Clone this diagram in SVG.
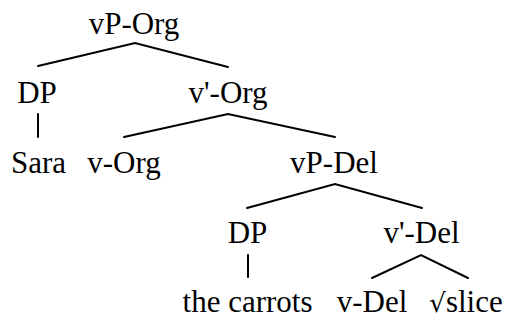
<svg xmlns="http://www.w3.org/2000/svg" width="505" height="320" viewBox="0 0 505 320">
<style>
.e{stroke:#000;stroke-width:2;fill:none;stroke-linecap:round}
.t{font-family:'Liberation Serif',serif;font-size:31px;fill:#000;text-anchor:middle}
</style>
<rect width="505" height="320" fill="#fff"/>
<g id="connectors">
<polyline class="e" points="38,66 135,43 228,67"/>
<line class="e" x1="38" y1="114" x2="38" y2="137"/>
<polyline class="e" points="124,137 228,114 335,137"/>
<polyline class="e" points="247,208 335,184 422,208"/>
<line class="e" x1="248" y1="255" x2="248" y2="277"/>
<polyline class="e" points="372,278 421,255 468,278"/>
</g>
<g id="vP-Org"><text class="t" x="134" y="34">vP-Org</text></g>
<g id="DP1"><text class="t" x="37" y="103">DP</text></g>
<g id="vbar-Org"><text class="t" x="228" y="103">v'-Org</text></g>
<g id="Sara"><text class="t" x="38.5" y="172.5">Sara</text></g>
<g id="v-Org"><text class="t" x="124" y="172.5">v-Org</text></g>
<g id="vP-Del"><text class="t" x="334" y="172.5">vP-Del</text></g>
<g id="DP2"><text class="t" x="247.5" y="242.5">DP</text></g>
<g id="vbar-Del"><text class="t" x="421.5" y="242.5">v'-Del</text></g>
<g id="the-carrots"><text class="t" x="247.5" y="312">the carrots</text></g>
<g id="v-Del"><text class="t" x="372" y="312">v-Del</text></g>
<g id="slice"><text class="t" x="466" y="312"><tspan font-family="DejaVu Serif" font-size="26">√</tspan>slice</text></g>
</svg>
